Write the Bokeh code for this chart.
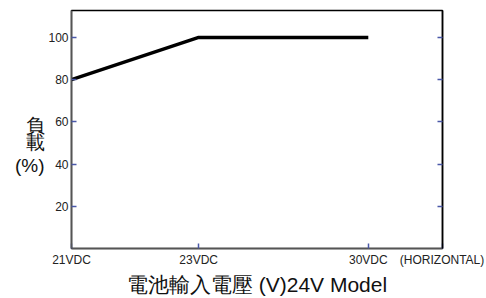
from bokeh.plotting import figure
from bokeh.models import Range1d, FixedTicker, LinearAxis
from bokeh.embed import file_html
from bokeh.resources import INLINE

# Data
categories = ["21VDC", "23VDC", "30VDC"]
x_pos = [0, 3, 7]          # axis positions of the voltage categories
load = [80, 100, 100]      # load (%)
y_ticks = [20, 40, 60, 80, 100]
x_extra = "(HORIZONTAL)"
x_extra_pos = 8.74
y_title = ["負", "載", "(%)"]
y_title_pos = [58.5, 50.0, 39.3]
x_title = "電池輸入電壓 (V)24V Model"

FONT = "Liberation Sans"
TICK_COLOR = "#4a58a8"

p = figure(width=486, height=298, output_backend="svg", toolbar_location=None,
           x_range=Range1d(0, 8.75), y_range=Range1d(0, 112.75),
           min_border_left=71, min_border_right=44, min_border_top=10, min_border_bottom=50)
p.grid.visible = False
p.outline_line_color = "black"
p.outline_line_width = 1.5
p.background_fill_color = "white"
p.border_fill_color = "white"

p.line(x_pos, load, line_color="black", line_width=3.5)

# Bottom axis
xa = p.xaxis[0]
xa.ticker = FixedTicker(ticks=x_pos + [x_extra_pos])
overrides = {x: c for x, c in zip(x_pos, categories)}
overrides[x_extra_pos] = x_extra
xa.major_label_overrides = overrides
xa.major_tick_in = 5
xa.major_tick_out = 0
xa.minor_tick_line_color = None
xa.major_tick_line_color = TICK_COLOR
xa.major_tick_line_width = 1.5
xa.axis_line_color = "#555555"
xa.axis_line_width = 1.5
xa.major_label_text_font = FONT
xa.major_label_text_font_size = "12px"
xa.major_label_text_color = "#222222"
xa.major_label_standoff = 4
xa.axis_label = x_title
xa.axis_label_text_font = FONT
xa.axis_label_text_font_size = "21px"
xa.axis_label_text_font_style = "normal"
xa.axis_label_text_color = "#111111"
xa.axis_label_standoff = 3

# Left axis
ya = p.yaxis[0]
ya.ticker = FixedTicker(ticks=y_ticks)
ya.major_tick_in = 5
ya.major_tick_out = 0
ya.minor_tick_line_color = None
ya.major_tick_line_color = TICK_COLOR
ya.major_tick_line_width = 1.5
ya.axis_line_color = "#555555"
ya.axis_line_width = 1.5
ya.major_label_text_font = FONT
ya.major_label_text_font_size = "12px"
ya.major_label_text_color = "#222222"
ya.major_label_standoff = 3

# Outer left axis used as a horizontal, stacked y title
ta = LinearAxis(ticker=FixedTicker(ticks=y_title_pos))
ta.major_label_overrides = {v: t for v, t in zip(y_title_pos, y_title)}
ta.major_tick_line_color = None
ta.minor_tick_line_color = None
ta.axis_line_color = None
ta.major_tick_in = 0
ta.major_tick_out = 0
ta.major_label_text_font = FONT
ta.major_label_text_font_size = "19px"
ta.major_label_text_color = "#111111"
ta.major_label_standoff = 1
p.add_layout(ta, "left")

# Right axis (ticks only)
ra = LinearAxis(ticker=FixedTicker(ticks=y_ticks))
ra.major_tick_in = 5
ra.major_tick_out = 0
ra.minor_tick_line_color = None
ra.major_tick_line_color = TICK_COLOR
ra.major_tick_line_width = 1.5
ra.axis_line_color = "black"
ra.axis_line_width = 1.5
ra.major_label_text_font_size = "0px"
ra.major_label_text_alpha = 0
ra.major_label_standoff = 0
p.add_layout(ra, "right")

open("out.html", "w").write(file_html(p, INLINE))
